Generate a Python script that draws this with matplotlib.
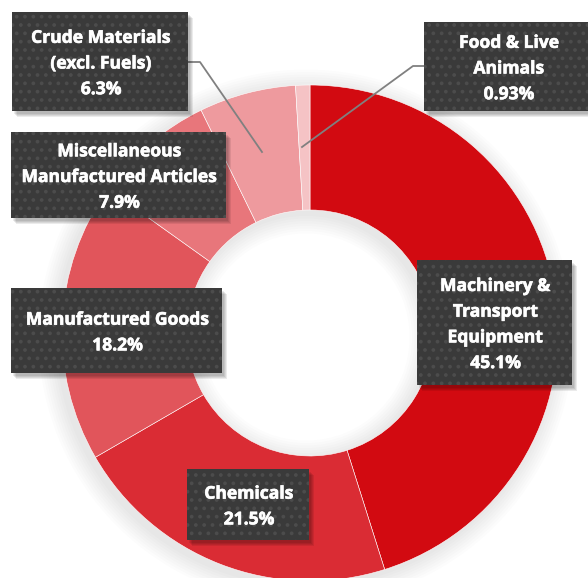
import matplotlib.pyplot as plt
import matplotlib.patheffects as pe
from matplotlib.patches import Rectangle, Wedge

# data
categories = ["Machinery &\nTransport\nEquipment", "Chemicals", "Manufactured Goods",
              "Miscellaneous\nManufactured Articles", "Crude Materials\n(excl. Fuels)",
              "Food & Live\nAnimals"]
shares = [45.1, 21.5, 18.2, 7.9, 6.3, 0.93]
pct_labels = ["45.1%", "21.5%", "18.2%", "7.9%", "6.3%", "0.93%"]
colors = ["#D20A11", "#DA2C34", "#E1555B", "#E8767B", "#EE9A9E", "#F5C3C5"]

plt.rcParams["hatch.linewidth"] = 1.5

W, H = 588, 578
fig = plt.figure(figsize=(W / 100, H / 100), dpi=100)
ax = fig.add_axes([0, 0, 1, 1])

cx, cy, R, ring = 310, H - 333, 248, 125

# soft shadow around the ring (outer and inner halo)
for i in range(8):
    ax.add_patch(Wedge((cx - 4, cy - 4), R + 2 + i * 2.5, 0, 360, width=ring + 4 + i * 5,
                       color="#000000", alpha=0.012, lw=0, zorder=0))

wedges, _ = ax.pie(shares, colors=colors, startangle=90, counterclock=False,
                   radius=R, center=(cx, cy),
                   wedgeprops=dict(width=ring, edgecolor="#ffffff", linewidth=0.4))

# label boxes: (left, top, right, bottom) in pixels from top-left
boxes = [(417, 260, 572, 385), (187, 469, 309, 540), (11, 288, 222, 373),
         (11, 132, 226, 218), (12, 12, 188, 111), (424, 22, 592, 111)]

# leader lines for the small slices (pixels, top-left origin)
leaders = {4: [(188, 62), (200, 62), (262, 152)],
           5: [(424, 66), (413, 66), (302, 147)]}
for idx, pts in leaders.items():
    ax.plot([p[0] for p in pts], [H - p[1] for p in pts], color="#808080",
            lw=1.3, zorder=3)

for i, (l, t, r, b) in enumerate(boxes):
    w, h = r - l, b - t
    # drop shadow
    for k in range(4):
        ax.add_patch(Rectangle((l + 2 + k, H - b - 3 - k), w, h, color="#000000",
                               alpha=0.08, lw=0, zorder=4))
    ax.add_patch(Rectangle((l, H - b), w, h, facecolor="#3A3A3A",
                           edgecolor="#4C4C4C", hatch="..", lw=0, zorder=5))
    ax.text((l + r) / 2 + 1, H - (t + b) / 2 - 2, categories[i] + "\n" + pct_labels[i],
            ha="center", va="center", color="white", fontsize=12.6,
            fontweight="bold", family="Open Sans", linespacing=1.55, zorder=6,
            path_effects=[pe.Stroke(linewidth=0.45, foreground="white"), pe.Normal()])

ax.set_xlim(0, W)
ax.set_ylim(0, H)
ax.set_aspect("auto")
ax.axis("off")

fig.savefig("out.png", dpi=100)
